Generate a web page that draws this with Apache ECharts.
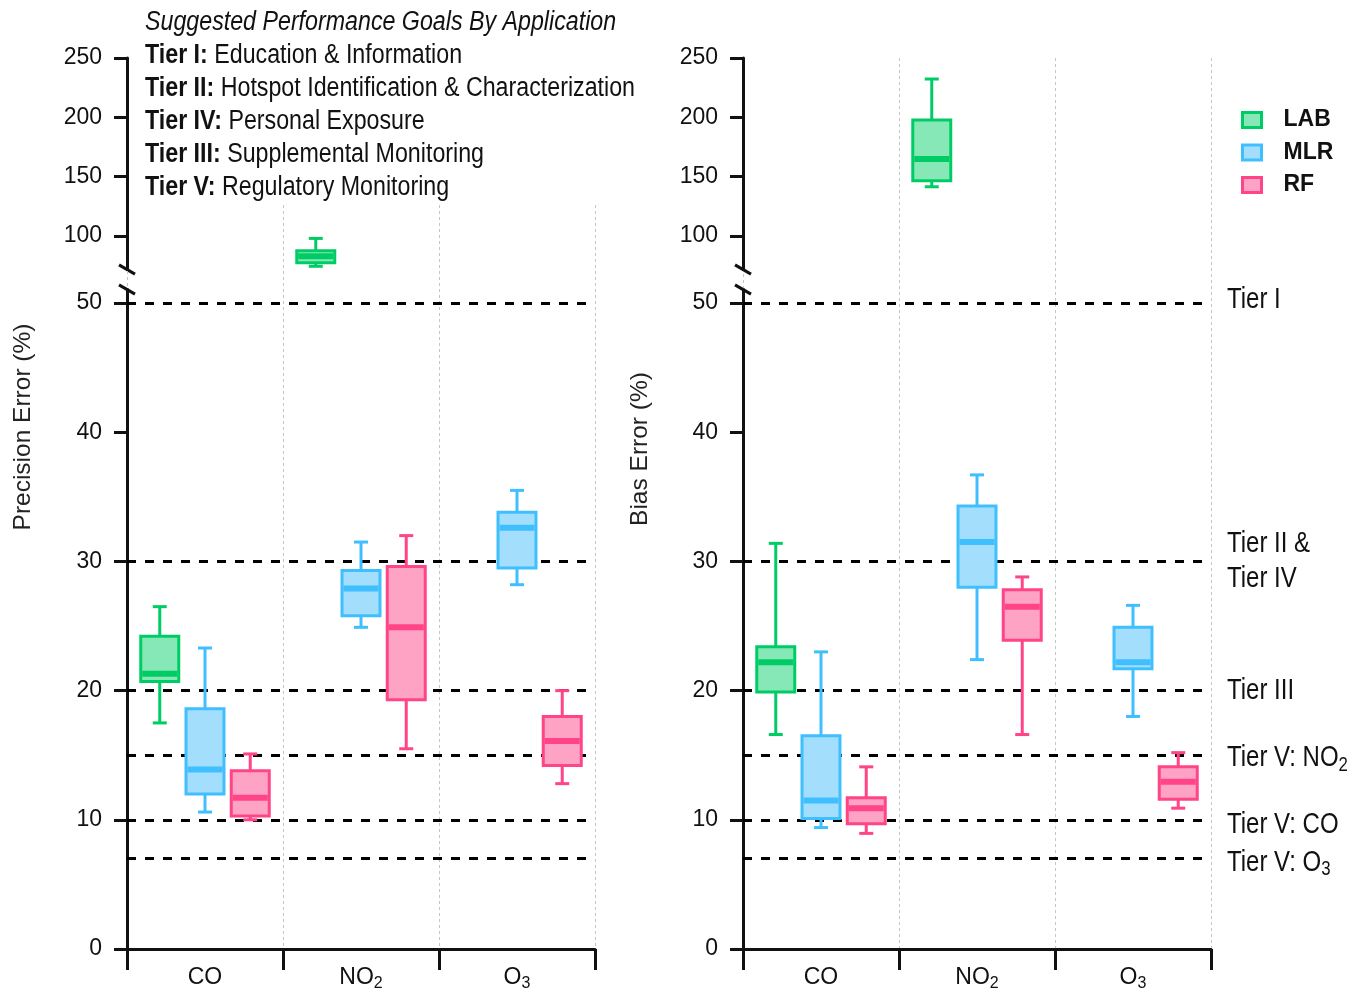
<!DOCTYPE html>
<html>
<head>
<meta charset="utf-8">
<script src="https://cdn.jsdelivr.net/npm/echarts@6/dist/echarts.min.js"></script>
<style>
  html, body { margin: 0; padding: 0; background: #fff; }
  #main { width: 1356px; height: 994px; }
</style>
</head>
<body>
<div id="main"></div>
<script>
// ---- data ----
const categories = ['CO', 'NO2', 'O3'];
const methods = ['LAB', 'MLR', 'RF'];

// five-number summaries per pollutant: [min, Q1, median, Q3, max]; null = not measured
const precisionLAB = [[17.5, 20.7, 21.3, 24.2, 26.5], [74.5, 77.5, 83.0, 87.5, 98.0], null];
const precisionMLR = [[10.6, 12.0, 13.9, 18.6, 23.3], [24.9, 25.8, 27.9, 29.3, 31.5], [28.2, 29.5, 32.6, 33.8, 35.5]];
const precisionRF  = [[10.0, 10.3, 11.7, 13.8, 15.1], [15.5, 19.3, 24.9, 29.6, 32.0], [12.8, 14.2, 16.1, 18.0, 20.0]];

const biasLAB = [[16.6, 19.9, 22.2, 23.4, 31.4], [141.5, 146.6, 164.9, 197.7, 232.3], null];
const biasMLR = [[9.4, 10.1, 11.5, 16.5, 23.0], [22.4, 28.0, 31.5, 34.3, 36.7], [18.0, 21.7, 22.2, 24.9, 26.6]];
const biasRF  = [[8.95, 9.7, 10.9, 11.7, 14.1], [16.6, 23.9, 26.5, 27.8, 28.8], [10.9, 11.6, 12.95, 14.1, 15.2]];

// performance-goal thresholds (%)
const tierLevels = [50, 30, 20, 15, 10, 7];
const tierNames = ['Tier I', 'Tier II &\nTier IV', 'Tier III', 'Tier V: NO{s|2}', 'Tier V: CO', 'Tier V: O{s|3}'];

const lowerTicks = [0, 10, 20, 30, 40, 50];
const upperTicks = [100, 150, 200, 250];

const goalHeading = 'Suggested Performance Goals By Application';
const goalTiers = ['Tier I:', 'Tier II:', 'Tier IV:', 'Tier III:', 'Tier V:'];
const goalUses = ['Education & Information', 'Hotspot Identification & Characterization',
  'Personal Exposure', 'Supplemental Monitoring', 'Regulatory Monitoring'];

// ---- styling / layout ----
const SANS = "'Liberation Sans', Arial, sans-serif";
const INK = '#111';
const NARROW_SCALE = 0.86;   // horizontal squeeze for the condensed-looking annotation text
const TIER_LABEL_NUDGE = [-3, 0, 0, 3, 5, 4];   // vertical fine-tuning of the tier names (px)
const COLORS = {
  LAB: { stroke: '#00CC66', fill: '#86E8B7' },
  MLR: { stroke: '#40BFFF', fill: '#A3DEFD' },
  RF:  { stroke: '#FF4487', fill: '#FFA3C4' }
};
const PANEL_X = [127, 743];
const PANEL_W = 468;
const UPPER = { top: 58, bottom: 269.5, min: 71.8, max: 250 };
const LOWER = { top: 289.5, bottom: 949, min: 0, max: 51.05 };
const BACKDROP_TOP = [205, 58];
const BOX_W = 38;
const CAP_W = 14;
const SPLIT_VALUE = 60; // values above this live on the upper (broken) segment

const panels = [
  { title: 'Precision Error (%)', titlePos: [23, 427], data: { LAB: precisionLAB, MLR: precisionMLR, RF: precisionRF }, tierLabels: false },
  { title: 'Bias Error (%)', titlePos: [640, 449], data: { LAB: biasLAB, MLR: biasMLR, RF: biasRF }, tierLabels: true }
];

function subFormatter(v) {
  return v.replace(/(\d)/g, '{s|$1}');
}

function boxRenderer(slot, stroke, fill) {
  return function (params, api) {
    const cat = api.value(0);
    const band = api.size([1, 0])[0];
    const cx = api.coord([cat, 0])[0] + (slot - 1) * band * 0.29;
    const ys = [1, 2, 3, 4, 5].map(function (d) { return api.coord([cat, api.value(d)])[1]; });
    const yMin = ys[0], yQ1 = ys[1], yMed = ys[2], yQ3 = ys[3], yMax = ys[4];
    const hw = BOX_W / 2, cw = CAP_W / 2;
    const ls = { stroke: stroke, lineWidth: 3 };
    return {
      type: 'group',
      children: [
        { type: 'line', shape: { x1: cx, y1: yMax, x2: cx, y2: yQ3 }, style: ls },
        { type: 'line', shape: { x1: cx, y1: yQ1, x2: cx, y2: yMin }, style: ls },
        { type: 'line', shape: { x1: cx - cw, y1: yMax, x2: cx + cw, y2: yMax }, style: ls },
        { type: 'line', shape: { x1: cx - cw, y1: yMin, x2: cx + cw, y2: yMin }, style: ls },
        { type: 'rect', shape: { x: cx - hw, y: yQ3, width: 2 * hw, height: yQ1 - yQ3 }, style: { fill: fill, stroke: stroke, lineWidth: 3 } },
        { type: 'line', shape: { x1: cx - hw + 1.5, y1: yMed, x2: cx + hw - 1.5, y2: yMed }, style: { stroke: stroke, lineWidth: 6 } }
      ]
    };
  };
}

// tier names placed just past the right end of each threshold line
function tierLabelRenderer(params, api) {
  const i = api.value(0);
  const level = api.value(1);
  const band = api.size([1, 0])[0];
  const p = api.coord([categories.length - 1, level]);
  return {
    type: 'text',
    x: p[0] + band / 2 + 16, y: p[1] + TIER_LABEL_NUDGE[i],
    scaleX: 0.8,
    style: {
      text: tierNames[i], x: 0, y: 0,
      font: '30px ' + SANS, fill: INK, align: 'left', verticalAlign: 'middle', lineHeight: 35,
      rich: { s: { font: '21px ' + SANS, fill: INK, lineHeight: 21, verticalAlign: 'bottom' } }
    }
  };
}

const grids = [], xAxes = [], yAxes = [], series = [], graphics = [];

function addGrid(left, top, bottom) {
  grids.push({ left: left, top: top, width: PANEL_W, height: bottom - top, containLabel: false });
  return grids.length - 1;
}

panels.forEach(function (panel, p) {
  const left = PANEL_X[p];

  // backdrop grid: dotted category separators
  const gb = addGrid(left, BACKDROP_TOP[p], LOWER.bottom);
  xAxes.push({
    gridIndex: gb, type: 'category', data: categories, boundaryGap: true,
    axisLine: { show: false }, axisTick: { show: false }, axisLabel: { show: false },
    splitLine: { show: true, lineStyle: { color: '#c4c4c4', width: 1, type: [3, 3] } }
  });
  yAxes.push({ gridIndex: gb, type: 'value', show: false, min: 0, max: 1 });

  const axisLineStyle = { color: INK, width: 3 };
  const tickLabel = { fontFamily: SANS, fontSize: 23, color: INK };

  // upper segment
  const gu = addGrid(left, UPPER.top, UPPER.bottom);
  xAxes.push({ gridIndex: gu, type: 'category', data: categories, boundaryGap: true, show: false, splitLine: { show: false } });
  yAxes.push({
    gridIndex: gu, type: 'value', min: UPPER.min, max: UPPER.max,
    axisLine: { show: true, lineStyle: axisLineStyle },
    axisTick: { show: true, length: 13, lineStyle: { color: INK, width: 3 }, customValues: upperTicks },
    axisLabel: Object.assign({ show: true, margin: 25, customValues: upperTicks }, tickLabel),
    splitLine: { show: false }
  });

  // lower segment
  const gl = addGrid(left, LOWER.top, LOWER.bottom);
  xAxes.push({
    gridIndex: gl, type: 'category', data: categories, boundaryGap: true,
    axisLine: { show: true, onZero: false, lineStyle: axisLineStyle },
    axisTick: { show: true, length: 21, interval: 0, lineStyle: { color: INK, width: 3 } },
    axisLabel: Object.assign({
      show: true, interval: 0, margin: 15, formatter: subFormatter, lineHeight: 28,
      rich: { s: { fontFamily: SANS, fontSize: 16, lineHeight: 16, verticalAlign: 'bottom', color: INK } }
    }, tickLabel),
    splitLine: { show: false }
  });
  yAxes.push({
    gridIndex: gl, type: 'value', min: LOWER.min, max: LOWER.max,
    axisLine: { show: true, lineStyle: axisLineStyle },
    axisTick: { show: true, length: 13, lineStyle: { color: INK, width: 3 }, customValues: lowerTicks },
    axisLabel: Object.assign({ show: true, margin: 25, customValues: lowerTicks }, tickLabel),
    splitLine: { show: false }
  });

  // boxes
  methods.forEach(function (m, slot) {
    const stats = panel.data[m];
    const upperItems = [], lowerItems = [];
    stats.forEach(function (s, i) {
      if (!s) return;
      (s[4] > SPLIT_VALUE ? upperItems : lowerItems).push([i].concat(s));
    });
    [[gu, upperItems], [gl, lowerItems]].forEach(function (pair) {
      series.push({
        name: m, type: 'custom', xAxisIndex: pair[0], yAxisIndex: pair[0], z: 3,
        renderItem: boxRenderer(slot, COLORS[m].stroke, COLORS[m].fill),
        encode: { x: 0, y: [1, 2, 3, 4, 5] },
        itemStyle: { color: COLORS[m].fill, borderColor: COLORS[m].stroke },
        data: pair[1]
      });
    });
  });

  // performance-goal thresholds
  series.push({
    name: 'tiers', type: 'line', xAxisIndex: gl, yAxisIndex: gl, data: [], z: 1,
    markLine: {
      silent: true, symbol: 'none', z: 1, animation: false,
      lineStyle: { color: '#000', width: 3, type: [9, 9] },
      label: { show: false },
      emphasis: { disabled: true },
      data: tierLevels.map(function (v) { return { yAxis: v }; })
    }
  });
  if (panel.tierLabels) {
    series.push({
      name: 'tierNames', type: 'custom', xAxisIndex: gl, yAxisIndex: gl, z: 4, silent: true,
      renderItem: tierLabelRenderer,
      encode: { x: -1, y: 1 },
      data: tierLevels.map(function (v, i) { return [i, v]; })
    });
  }

  // y-axis title
  graphics.push({
    type: 'text', x: panel.titlePos[0], y: panel.titlePos[1], rotation: Math.PI / 2,
    style: { text: panel.title, font: '24.5px ' + SANS, fill: '#222', align: 'center', verticalAlign: 'middle' }
  });

  // axis-break marks
  [UPPER.bottom, LOWER.top].forEach(function (yb) {
    graphics.push({
      type: 'line',
      shape: { x1: left - 8, y1: yb - 4.6, x2: left + 8, y2: yb + 4.6 },
      style: { stroke: INK, lineWidth: 3 }
    });
  });
});

// application goals block, top left
const goalText = ['{i|' + goalHeading + '}'].concat(goalTiers.map(function (t, i) {
  return '{b|' + t + '}{n| ' + goalUses[i] + '}';
})).join('\n');
graphics.push({
  type: 'text', x: 145, y: 6, scaleX: NARROW_SCALE,
  style: {
    text: goalText, x: 0, y: 0, align: 'left', verticalAlign: 'top',
    font: '27px ' + SANS, fill: INK, lineHeight: 33,
    rich: {
      i: { font: 'italic 27px ' + SANS, fill: INK, lineHeight: 33 },
      b: { font: 'bold 27px ' + SANS, fill: INK, lineHeight: 33 },
      n: { font: '27px ' + SANS, fill: INK, lineHeight: 33 }
    }
  }
});

const option = {
  backgroundColor: '#fff',
  animation: false,
  legend: {
    orient: 'vertical', left: 1241, top: 108, padding: 0,
    itemWidth: 19, itemHeight: 15, itemGap: 8.5,
    icon: 'rect', selectedMode: false,
    textStyle: { fontFamily: SANS, fontSize: 23, fontWeight: 'bold', color: INK, lineHeight: 24, padding: [0, 0, 0, 17] },
    data: methods.map(function (m) {
      return { name: m, itemStyle: { color: COLORS[m].fill, borderColor: COLORS[m].stroke, borderWidth: 3 } };
    })
  },
  grid: grids,
  xAxis: xAxes,
  yAxis: yAxes,
  graphic: graphics,
  series: series
};

const chart = echarts.init(document.getElementById('main'));
chart.setOption(option);
</script>
</body>
</html>
